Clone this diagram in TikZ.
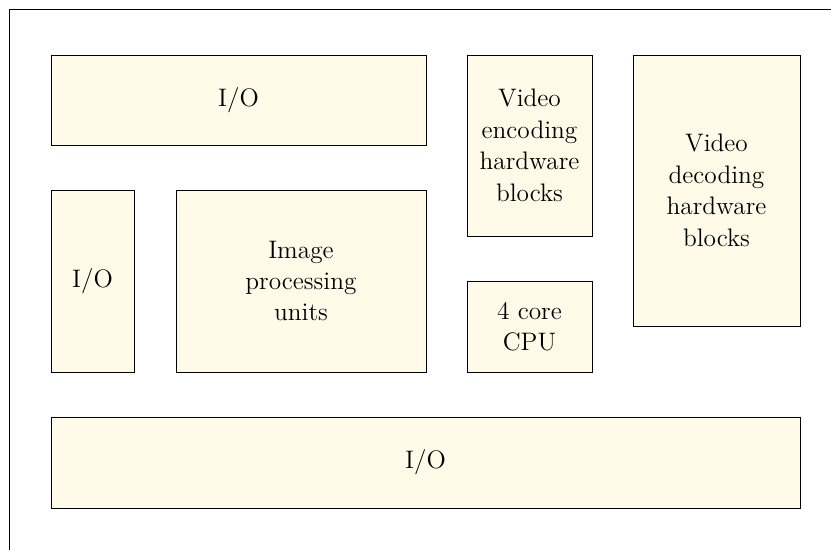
\documentclass[tikz,border=0pt]{standalone}
\usepackage{tikz}

\definecolor{blockfill}{RGB}{255,251,232}
\tikzset{
	block/.style={draw,fill=blockfill,align=center,inner sep=0pt,font=\fontsize{14.4}{17.9}\selectfont}
}

\begin{document}
\begin{tikzpicture}
	\useasboundingbox (0,0) rectangle (16.62,-11);
	\draw (0.18,-11.5) -- (0.18,-0.18) -- (17,-0.18);

	\node[block,minimum width=7.5cm,minimum height=1.8cm] (io1) at (4.77,-2.0) {I/O};
	\node[block,minimum width=1.66cm,minimum height=3.64cm] (io2) at (1.85,-5.62) {I/O};
	\node[block,minimum width=5cm,minimum height=3.64cm] (ipu) at (6.02,-5.62) {Image\\processing\\units};
	\node[block,minimum width=2.5cm,minimum height=3.62cm] (venc) at (10.59,-2.91) {Video\\encoding\\hardware\\blocks};
	\node[block,minimum width=2.5cm,minimum height=1.82cm] (cpu) at (10.59,-6.53) {4 core\\CPU};
	\node[block,minimum width=3.34cm,minimum height=5.42cm] (vdec) at (14.33,-3.81) {Video\\decoding\\hardware\\blocks};
	\node[block,minimum width=14.98cm,minimum height=1.82cm] (io3) at (8.51,-9.25) {I/O};
	\end{tikzpicture}
\end{document}
